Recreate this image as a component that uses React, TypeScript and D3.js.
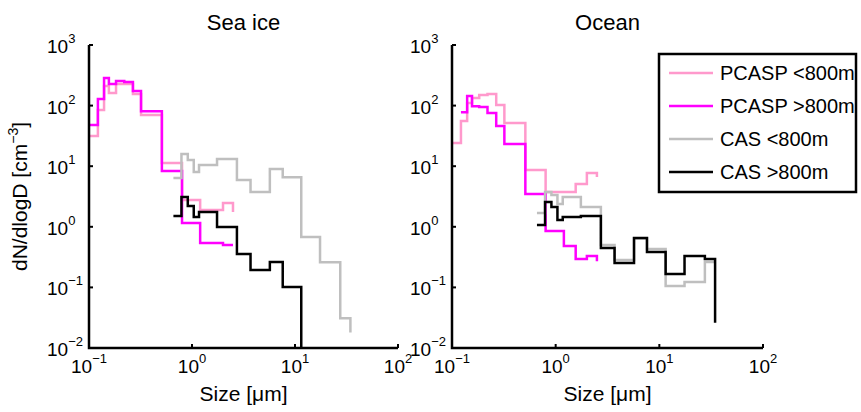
import React from 'react';
import * as d3 from 'd3';

// bin edges (µm)
const pcaspSizes = [0.1, 0.122, 0.14, 0.156, 0.183, 0.22, 0.267, 0.32, 0.51, 0.8, 0.98, 1.2, 1.56, 2.0, 2.5];
const casSizes = [0.66, 0.79, 0.91, 1.04, 1.17, 1.75, 2.73, 3.7, 5.7, 7.6, 11.5, 17.5, 27.5, 34.5];

// Sea ice
const seaPcaspLow = [31.5, 84.5, 210, 161, 227, 227, 155, 70, 11.3, 2.77, 2.77, 1.89, 1.89, 2.47, 1.75];
const seaPcaspHigh = [47.9, 128, 285, 227, 254, 245, 174, 81, 8.3, 1.16, 1.16, 0.54, 0.54, 0.5, 0.5];
const seaCasLow = [6.4, 15.9, 12.6, 8.0, 10.5, 13.2, 5.9, 3.75, 9.0, 6.6, 0.68, 0.26, 0.031, 0.018];
const seaCasHigh = [1.51, 3.1, 2.2, 1.45, 1.75, 0.99, 0.356, 0.194, 0.262, 0.102, 0.01, NaN, NaN, NaN];

// Ocean
const oceanPcaspLow = [24.2, 55.7, 110, 133, 150, 155, 102, 51.6, 8.65, 3.75, 3.75, 3.75, 5.08, 7.73, 6.64];
const oceanPcaspHigh = [NaN, 78, 144, 98, 95, 75.5, 46, 23.2, 3.47, 0.85, 0.85, 0.48, 0.294, 0.33, 0.27];
const oceanCasLow = [1.69, 3.75, 3.35, 2.38, 3.1, 2.12, 0.5, 0.283, 0.64, 0.43, 0.105, 0.123, 0.262, 0.262];
const oceanCasHigh = [1.07, 2.56, 2.12, 1.29, 1.45, 1.51, 0.447, 0.253, 0.653, 0.384, 0.166, 0.33, 0.294, 0.026];

const legendLabels = ['PCASP <800m', 'PCASP >800m', 'CAS <800m', 'CAS >800m'];
const colors = ['#ff99cc', '#ff00ff', '#bfbfbf', '#000000'];
const xTicks = [0.1, 1, 10, 100];
const yTicks = [0.01, 0.1, 1, 10, 100, 1000];

const font = '"Liberation Sans", Arial, Helvetica, sans-serif';

const exp = (v: number) => {
  const e = Math.round(Math.log10(v));
  return e < 0 ? `\u2212${-e}` : `${e}`;
};

type PanelProps = {
  title: string;
  x0: number;
  x1: number;
  series: { sizes: number[]; values: number[]; color: string }[];
};

const top = 45;
const bottom = 348;

const Panel: React.FC<PanelProps> = ({ title, x0, x1, series }) => {
  const x = d3.scaleLog().domain([0.1, 100]).range([x0, x1]);
  const y = d3.scaleLog().domain([0.01, 1000]).range([bottom, top]);
  const line = d3
    .line<[number, number]>()
    .defined((d) => !isNaN(d[1]))
    .x((d) => x(d[0]))
    .y((d) => y(d[1]))
    .curve(d3.curveStepAfter);

  return (
    <g>
      <text x={(x0 + x1) / 2} y={30} textAnchor="middle" fontSize={22}>
        {title}
      </text>
      {series.map((s, i) => (
        <path
          key={i}
          d={line(s.sizes.map((d, j) => [d, s.values[j]] as [number, number])) || ''}
          fill="none"
          stroke={s.color}
          strokeWidth={2.5}
        />
      ))}
      {/* axes */}
      <path d={`M${x0},${top}V${bottom}H${x1}`} fill="none" stroke="#000" strokeWidth={2.5} />
      {yTicks.map((t) => (
        <g key={'y' + t}>
          <line x1={x0} x2={x0 + 4} y1={y(t)} y2={y(t)} stroke="#000" strokeWidth={2} />
          <text x={x0 - 42} y={y(t) + 8} fontSize={19}>
            10
            <tspan fontSize={13} dy={-10}>
              {exp(t)}
            </tspan>
          </text>
        </g>
      ))}
      {xTicks.map((t) => (
        <g key={'x' + t}>
          <line x1={x(t)} x2={x(t)} y1={bottom} y2={bottom - 4} stroke="#000" strokeWidth={2} />
          <text x={x(t)} y={373} textAnchor="middle" fontSize={19}>
            10
            <tspan fontSize={13} dy={-10}>
              {exp(t)}
            </tspan>
          </text>
        </g>
      ))}
      <text x={(x0 + x1) / 2} y={401} textAnchor="middle" fontSize={21}>
        Size [μm]
      </text>
    </g>
  );
};

const App: React.FC = () => {
  const mk = (vals: number[][]) =>
    vals.map((v, i) => ({ sizes: i < 2 ? pcaspSizes : casSizes, values: v, color: colors[i] }));

  const legendY = d3.scalePoint<string>().domain(legendLabels).range([73, 172]);

  return (
    <svg
      width={861}
      height={412}
      style={{ position: 'absolute', left: 0, top: 0, background: '#fff' }}
      fontFamily={font}
    >
      <rect width={861} height={412} fill="#fff" />
      <Panel title="Sea ice" x0={89} x1={398} series={mk([seaPcaspLow, seaPcaspHigh, seaCasLow, seaCasHigh])} />
      <Panel title="Ocean" x0={452} x1={763} series={mk([oceanPcaspLow, oceanPcaspHigh, oceanCasLow, oceanCasHigh])} />

      <text transform={`translate(27,${(top + bottom) / 2}) rotate(-90)`} textAnchor="middle" fontSize={21}>
        dN/dlogD [cm
        <tspan fontSize={14} dy={-9}>
          −3
        </tspan>
        <tspan dy={9}>]</tspan>
      </text>

      {/* legend */}
      <rect x={659} y={54} width={197} height={138} fill="#fff" stroke="#000" strokeWidth={2.5} />
      {legendLabels.map((l, i) => (
        <g key={l}>
          <line x1={669} x2={713} y1={legendY(l)} y2={legendY(l)} stroke={colors[i]} strokeWidth={2.5} />
          <text x={720} y={(legendY(l) as number) + 7} fontSize={20}>
            {l}
          </text>
        </g>
      ))}
    </svg>
  );
};

export default App;
